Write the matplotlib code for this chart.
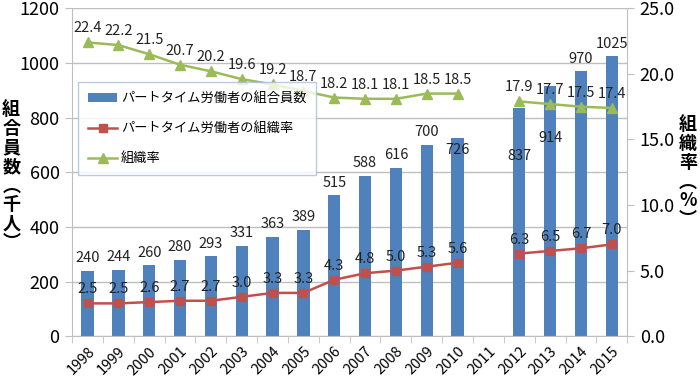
import numpy as np
import matplotlib
matplotlib.use("Agg")
import matplotlib.pyplot as plt

plt.rcParams['font.family'] = ['Noto Sans CJK JP', 'DejaVu Sans']

years = ['1998', '1999', '2000', '2001', '2002', '2003', '2004', '2005', '2006',
         '2007', '2008', '2009', '2010', '2011', '2012', '2013', '2014', '2015']
members = [240, 244, 260, 280, 293, 331, 363, 389, 515,
           588, 616, 700, 726, None, 837, 914, 970, 1025]
pt_rate = [2.5, 2.5, 2.6, 2.7, 2.7, 3.0, 3.3, 3.3, 4.3,
           4.8, 5.0, 5.3, 5.6, None, 6.3, 6.5, 6.7, 7.0]
all_rate = [22.4, 22.2, 21.5, 20.7, 20.2, 19.6, 19.2, 18.7, 18.2,
            18.1, 18.1, 18.5, 18.5, None, 17.9, 17.7, 17.5, 17.4]

blue = '#4F81BD'
red = '#C0504D'
green = '#9BBB59'

x = np.arange(len(years))
m = np.array([np.nan if v is None else v for v in members], dtype=float)
r1 = np.array([np.nan if v is None else v for v in pt_rate], dtype=float)
r2 = np.array([np.nan if v is None else v for v in all_rate], dtype=float)

fig = plt.figure(figsize=(7, 3.79), dpi=100)
ax = fig.add_axes([0.103, 0.113, 0.793, 0.865])
ax2 = ax.twinx()

bars = ax.bar(x, np.nan_to_num(m), width=0.4, color=blue, zorder=2,
              label='パートタイム労働者の組合員数')
ax2.plot(x, r1, color=red, marker='s', markersize=6, lw=1.8, zorder=3,
         label='パートタイム労働者の組織率')
ax2.plot(x, r2, color=green, marker='^', markersize=7, lw=1.8, zorder=3,
         label='組織率')

ax.set_xlim(-0.5, len(years) - 0.5)
ax.set_ylim(0, 1200)
ax.set_yticks(range(0, 1201, 200))
ax2.set_ylim(0, 25)
ax2.set_yticks(np.arange(0, 25.1, 5))
ax2.set_yticklabels([f'{v:.1f}' for v in np.arange(0, 25.1, 5)])

ax.yaxis.grid(True, color='#BFBFBF', lw=1, zorder=0)
ax.set_axisbelow(True)
ax.set_zorder(ax2.get_zorder() - 1)
ax2.patch.set_visible(False)
ax.patch.set_visible(False)

for a in (ax, ax2):
    a.spines['top'].set_visible(False)
    a.spines['left'].set_color('#BFBFBF')
    a.spines['right'].set_color('#BFBFBF')
    a.spines['bottom'].set_color('#BFBFBF')
ax.spines['right'].set_visible(False)
ax2.spines['left'].set_visible(False)
ax2.spines['bottom'].set_visible(False)

ax.tick_params(axis='y', length=5, color='#BFBFBF', labelsize=13, pad=4)
ax2.tick_params(axis='y', length=5, color='#BFBFBF', labelsize=13, pad=4)

ax.set_xticks(x)
ax.set_xticklabels(years, rotation=45, ha='right', rotation_mode='anchor', fontsize=10.5)
ax.set_xticks(np.arange(-0.5, len(years)), minor=True)
ax.tick_params(axis='x', which='major', length=0, pad=6)
ax.tick_params(axis='x', which='minor', length=5, color='#BFBFBF')

# data labels (some bar labels sit inside the bar to dodge the green line)
inside = {'2010': -14, '2012': -40, '2013': -42}
for i, v in enumerate(members):
    if v is None:
        continue
    dy = inside.get(years[i], 4)
    ax.annotate(str(v), (x[i], v), xytext=(0, dy), textcoords='offset points',
                ha='center', va='bottom', fontsize=10.5, color='#222222')
for i, v in enumerate(pt_rate):
    if v is None:
        continue
    ax2.annotate(f'{v:.1f}', (x[i], v), xytext=(0, 5), textcoords='offset points',
                 ha='center', va='bottom', fontsize=10.5, color='#222222')
for i, v in enumerate(all_rate):
    if v is None:
        continue
    ax2.annotate(f'{v:.1f}', (x[i], v), xytext=(0, 5), textcoords='offset points',
                 ha='center', va='bottom', fontsize=10.5, color='#222222')

fig.text(0.016, 0.535, '組\n合\n員\n数\n︵\n千\n人\n︶', ha='center', va='center',
         fontsize=13, fontweight='bold', linespacing=1.0)
fig.text(0.983, 0.545, '組\n織\n率\n︵\n%\n︶', ha='center', va='center',
         fontsize=13, fontweight='bold', linespacing=1.0)

h1, l1 = ax.get_legend_handles_labels()
h2, l2 = ax2.get_legend_handles_labels()
leg = ax2.legend(h1 + h2, l1 + l2, loc='upper left', bbox_to_anchor=(0.011, 0.775),
                 borderaxespad=0, fontsize=9.5, frameon=True, fancybox=False,
                 edgecolor='#A7C0DE', labelspacing=1.3, handlelength=2.2,
                 borderpad=0.75, handletextpad=0.3)
leg.get_frame().set_linewidth(1.0)

fig.savefig('out.png', dpi=100)
